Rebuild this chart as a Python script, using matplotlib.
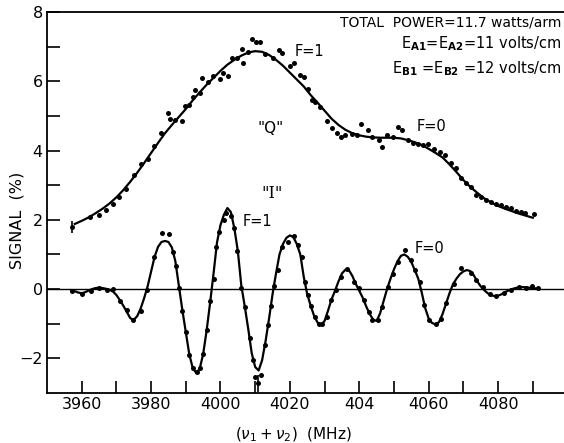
import numpy as np
import matplotlib.pyplot as plt
from matplotlib.ticker import FixedLocator

plt.rcParams['font.family'] = 'DejaVu Sans'

# fitted line shapes, read on a regular frequency grid (MHz)
q_fit_freq = np.arange(3958, 4091, 2)
q_fit_signal = [
    1.88, 1.97, 2.07, 2.19, 2.32, 2.47, 2.65, 2.86, 3.10, 3.36,
    3.64, 3.93, 4.22, 4.50, 4.74, 4.97, 5.20, 5.45, 5.68, 5.90,
    6.10, 6.30, 6.48, 6.62, 6.74, 6.83, 6.87, 6.85, 6.76, 6.62,
    6.45, 6.25, 6.05, 5.85, 5.60, 5.38, 5.15, 4.92, 4.74, 4.60,
    4.50, 4.44, 4.40, 4.38, 4.37, 4.37, 4.37, 4.35, 4.30, 4.24,
    4.16, 4.05, 3.93, 3.80, 3.60, 3.38, 3.15, 2.95, 2.78, 2.62,
    2.50, 2.40, 2.32, 2.25, 2.18, 2.12, 2.06,
]

i_fit_freq = np.arange(3957, 4092)
i_fit_signal = [
    -0.03, -0.06, -0.10, -0.12, -0.09, -0.04, 0.00, 0.03, 0.04, 0.03,
    0.01, -0.02, -0.07, -0.17, -0.32, -0.48, -0.66, -0.84, -0.89, -0.78,
    -0.56, -0.26, 0.08, 0.50, 0.93, 1.22, 1.36, 1.39, 1.36, 1.20,
    0.80, 0.10, -0.60, -1.25, -1.88, -2.28, -2.42, -2.30, -1.88, -1.20,
    -0.40, 0.45, 1.35, 1.85, 2.15, 2.34, 2.22, 1.75, 1.10, 0.10,
    -0.50, -1.15, -1.85, -2.25, -2.35, -2.05, -1.50, -0.85, -0.15, 0.45,
    1.00, 1.30, 1.48, 1.55, 1.50, 1.30, 1.00, 0.35, -0.15, -0.48,
    -0.78, -0.97, -1.03, -0.92, -0.62, -0.30, -0.05, 0.22, 0.45, 0.56,
    0.55, 0.38, 0.15, -0.05, -0.25, -0.50, -0.72, -0.88, -0.92, -0.70,
    -0.35, 0.00, 0.30, 0.57, 0.80, 0.96, 1.00, 0.93, 0.78, 0.55,
    0.30, -0.10, -0.55, -0.85, -0.98, -1.02, -0.95, -0.72, -0.42, -0.12,
    0.14, 0.30, 0.43, 0.51, 0.55, 0.52, 0.40, 0.22, 0.08, -0.03,
    -0.12, -0.18, -0.20, -0.19, -0.15, -0.09, -0.04, 0.00, 0.03, 0.05,
    0.06, 0.05, 0.04, 0.03, 0.02,
]

# measured points, "Q" signal
q_freq = [
    3962.4, 3965.1, 3967.0, 3968.9, 3970.8, 3972.7, 3975.1, 3977.1, 3979.0, 3980.9,
    3982.8, 3984.9, 3985.4, 3986.8, 3988.8, 3989.7, 3990.9, 3992.1, 3992.7, 3994.0,
    3994.8, 3996.4, 3997.9, 3999.8, 4000.6, 4002.2, 4003.4, 4004.8, 4006.3, 4006.5,
    4007.9, 4009.2, 4010.1, 4011.3, 4012.8, 4015.0, 4016.9, 4017.6, 4020.0, 4021.3,
    4022.9, 4024.2, 4025.1, 4026.3, 4027.2, 4028.7, 4030.6, 4032.0, 4033.5, 4034.7,
    4036.0, 4037.8, 4039.2, 4040.6, 4042.4, 4043.7, 4045.6, 4046.6, 4048.1, 4049.8,
    4051.2, 4052.4, 4053.9, 4055.5, 4057.0, 4058.4, 4059.8, 4061.6, 4063.2, 4064.6,
    4066.5, 4068.0, 4069.4, 4070.9, 4072.3, 4073.7, 4075.2, 4076.6, 4078.1, 4079.5,
    4080.9, 4082.4, 4083.8, 4085.3, 4086.5, 4087.8, 4090.3,
]
q_signal = [
    2.09, 2.14, 2.28, 2.46, 2.67, 2.89, 3.29, 3.60, 3.76, 4.14,
    4.50, 5.08, 4.91, 4.88, 4.86, 5.29, 5.32, 5.56, 5.75, 5.66,
    6.09, 5.99, 6.16, 6.06, 6.25, 6.16, 6.67, 6.67, 6.94, 6.52,
    6.84, 7.22, 7.13, 7.13, 6.79, 6.67, 6.89, 6.81, 6.43, 6.54,
    6.18, 6.12, 5.77, 5.46, 5.41, 5.27, 4.84, 4.64, 4.50, 4.40,
    4.45, 4.48, 4.45, 4.77, 4.60, 4.40, 4.31, 4.11, 4.45, 4.40,
    4.69, 4.60, 4.31, 4.21, 4.19, 4.16, 4.19, 4.04, 3.97, 3.87,
    3.63, 3.49, 3.20, 3.07, 2.96, 2.72, 2.67, 2.57, 2.52, 2.46,
    2.43, 2.36, 2.33, 2.26, 2.23, 2.19, 2.16,
]

# measured points, "I" signal
i_freq = [
    3957.2, 3960.0, 3962.6, 3965.1, 3967.4, 3969.1, 3971.0, 3973.1, 3974.8, 3977.2,
    3978.9, 3980.8, 3983.0, 3985.1, 3986.4, 3987.3, 3988.1, 3989.0, 3990.1, 3991.0,
    3992.2, 3993.1, 3994.0, 3995.0, 3996.0, 3996.9, 3998.0, 3998.8, 3999.6, 4001.0,
    4001.7, 4003.0, 4003.9, 4004.8, 4006.0, 4007.0, 4008.4, 4009.4, 4009.9, 4011.8,
    4012.7, 4013.7, 4014.6, 4015.5, 4016.5, 4017.6, 4019.5, 4021.3, 4022.2, 4023.4,
    4024.3, 4025.1, 4026.1, 4027.2, 4028.4, 4029.3, 4030.6, 4031.8, 4033.2, 4034.7,
    4036.5, 4038.5, 4039.9, 4041.4, 4042.8, 4043.7, 4045.3, 4046.6, 4048.3, 4049.8,
    4051.2, 4053.1, 4054.8, 4056.0, 4057.4, 4058.7, 4060.0, 4062.2, 4063.5, 4065.1,
    4067.3, 4069.4, 4072.1, 4073.7, 4075.7, 4077.6, 4079.5, 4081.7, 4083.8, 4085.9,
    4088.1, 4089.8, 4091.5,
]
i_signal = [
    -0.05, -0.14, -0.05, 0.02, -0.04, 0.00, -0.35, -0.61, -0.90, -0.62,
    -0.03, 0.93, 1.61, 1.58, 1.06, 0.67, 0.04, -0.63, -1.25, -1.91,
    -2.27, -2.39, -2.28, -1.86, -1.18, -0.35, 0.30, 1.22, 1.65, 2.00,
    2.20, 2.10, 1.75, 1.10, 0.04, -0.51, -1.42, -2.05, -2.53, -2.47,
    -1.60, -1.04, -0.50, 0.10, 0.55, 1.22, 1.37, 1.53, 1.27, 0.92,
    0.21, -0.17, -0.49, -0.80, -1.01, -1.01, -0.80, -0.32, -0.03, 0.36,
    0.57, 0.21, 0.02, -0.32, -0.66, -0.90, -0.88, -0.53, 0.07, 0.45,
    0.79, 1.13, 0.84, 0.55, 0.21, -0.46, -0.88, -1.01, -0.85, -0.41,
    0.16, 0.62, 0.47, 0.26, 0.07, -0.14, -0.20, -0.11, -0.03, 0.07,
    0.02, 0.09, 0.02,
]

# typical error bars
err_freq = [3957.2, 4010.8]
err_signal = [1.80, -2.72]
err_size = [0.17, 0.25]

x_ticks = [3960, 3980, 4000, 4020, 4040, 4060, 4080]
x_tick_labels = ['3960', '3980', '4000', '4020', '404', '4060', '4080']
y_ticks = [-2, 0, 2, 4, 6, 8]

fig = plt.figure(figsize=(5.64, 4.43), dpi=100)
ax = fig.add_axes([47 / 564, 50 / 443, 517 / 564, 381 / 443])

ax.axhline(0, color='black', lw=1.0, zorder=1)
ax.plot(q_fit_freq, q_fit_signal, color='black', lw=1.6)
ax.plot(i_fit_freq, i_fit_signal, color='black', lw=1.6)
ax.plot(q_freq, q_signal, 'o', color='black', ms=3.6, mew=0)
ax.plot(i_freq, i_signal, 'o', color='black', ms=3.6, mew=0)
ax.errorbar(err_freq, err_signal, yerr=err_size, fmt='o', color='black',
            ms=3.6, mew=0, elinewidth=1.2, capsize=2.5, capthick=1.2)

ax.set_xlim(3950, 4099)
ax.set_ylim(-3, 8)
ax.spines['right'].set_visible(False)
for side in ['left', 'top', 'bottom']:
    ax.spines[side].set_linewidth(1.3)

ax.xaxis.set_major_locator(FixedLocator(x_ticks))
ax.set_xticklabels(x_tick_labels)
ax.xaxis.set_minor_locator(FixedLocator([3970, 3990, 4010, 4030, 4050, 4070, 4090]))
ax.yaxis.set_major_locator(FixedLocator(y_ticks))
ax.yaxis.set_minor_locator(FixedLocator([-1, 1, 3, 5, 7]))
ax.tick_params(which='both', direction='in', length=9, width=1.2,
               top=False, right=False, labelsize=11.5, pad=3)

# axis titles placed by hand in figure coordinates
fig.text(293 / 564, 1 - 435 / 443, r'$(\nu_1 + \nu_2)$  (MHz)', fontsize=11,
         ha='center', va='center')
fig.text(17 / 564, 1 - 220 / 443, 'SIGNAL  (%)', fontsize=11.5,
         rotation=90, ha='center', va='center')

# run conditions
ax.text(0.995, 0.972, 'TOTAL  POWER=11.7 watts/arm', transform=ax.transAxes,
        ha='right', va='center', fontsize=10)
ax.text(0.995, 0.916, r'E$_{\mathbf{A1}}$=E$_{\mathbf{A2}}$=11 volts/cm',
        transform=ax.transAxes, ha='right', va='center', fontsize=10.5)
ax.text(0.995, 0.852, r'E$_{\mathbf{B1}}$ =E$_{\mathbf{B2}}$ =12 volts/cm',
        transform=ax.transAxes, ha='right', va='center', fontsize=10.5)

ax.text(4021.4, 6.85, 'F=1', fontsize=10.5, va='center')
ax.text(4056.5, 4.68, 'F=0', fontsize=10.5, va='center')
ax.text(4006.4, 1.94, 'F=1', fontsize=10.5, va='center')
ax.text(4055.9, 1.16, 'F=0', fontsize=10.5, va='center')
ax.text(4010.7, 4.65, '"Q"', fontsize=11, va='center')
ax.text(4011.9, 2.75, '"I"', fontsize=11.5, va='center', family='DejaVu Serif')

fig.savefig('out.png', dpi=100)
